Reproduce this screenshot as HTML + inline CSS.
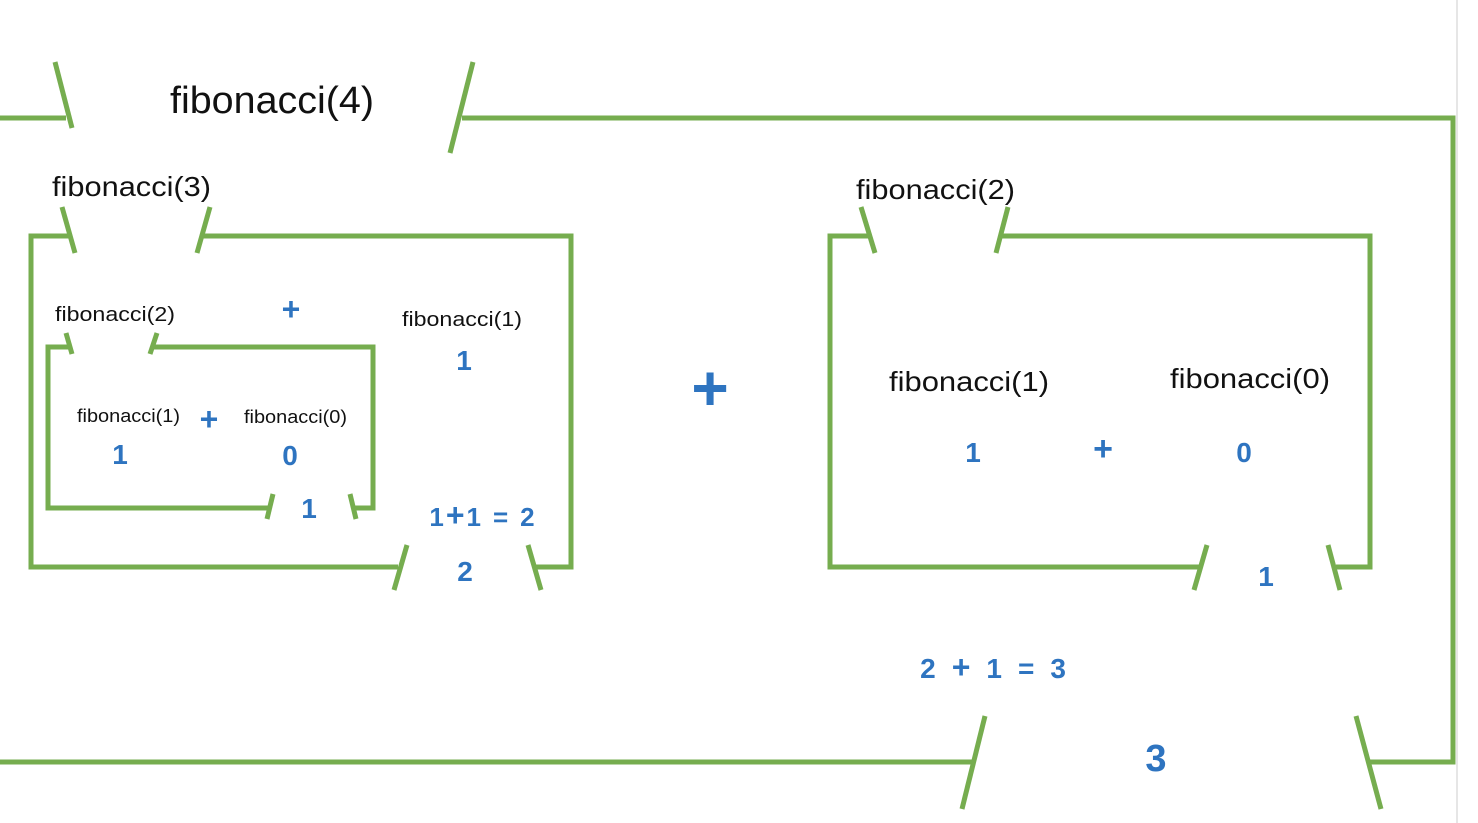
<!DOCTYPE html>
<html><head><meta charset="utf-8"><style>
html,body{margin:0;padding:0;background:#fff;}
svg{display:block;}
text{font-family:"Liberation Sans",sans-serif;}
.k{fill:#111;}
.b{fill:#2e74c0;font-weight:bold;}
</style></head><body>
<svg width="1478" height="823" viewBox="0 0 1478 823" xmlns="http://www.w3.org/2000/svg">
<rect width="1478" height="823" fill="#fff"/>
<line x1="1457" y1="0" x2="1457" y2="823" stroke="#ddd" stroke-width="1.5"/>
<g fill="none" stroke="#76ad4f" stroke-width="5">
<polyline points="0,118 66,118"/>
<line x1="55" y1="62" x2="72" y2="128"/>
<line x1="473" y1="62" x2="450" y2="153"/>
<polyline points="462,118 1453,118 1453,762 1370,762"/>
<line x1="1356" y1="716" x2="1381" y2="809"/>
<polyline points="0,762 972,762"/>
<line x1="985" y1="716" x2="962" y2="809"/>
<polyline points="70,236 31,236 31,567 398,567"/>
<line x1="62" y1="207" x2="75" y2="253"/>
<line x1="210" y1="207" x2="197" y2="253"/>
<polyline points="203,236 571,236 571,567 536,567"/>
<line x1="528" y1="545" x2="541" y2="590"/>
<line x1="407" y1="545" x2="394" y2="590"/>
<polyline points="70,347 48,347 48,508 270,508"/>
<line x1="66" y1="333" x2="72" y2="354"/>
<line x1="157" y1="333" x2="150" y2="354"/>
<polyline points="153,347 373,347 373,508 354,508"/>
<line x1="350" y1="494" x2="356" y2="519"/>
<line x1="273" y1="494" x2="267" y2="519"/>
<polyline points="869,236 830,236 830,567 1200,567"/>
<line x1="861" y1="207" x2="875" y2="253"/>
<line x1="1008" y1="207" x2="996" y2="253"/>
<polyline points="1002,236 1370,236 1370,567 1336,567"/>
<line x1="1328" y1="545" x2="1340" y2="590"/>
<line x1="1207" y1="545" x2="1194" y2="590"/>
</g>
<text class="k" x="170" y="113" font-size="38" textLength="204" lengthAdjust="spacingAndGlyphs">fibonacci(4)</text>
<text class="k" x="52" y="196" font-size="28" textLength="159" lengthAdjust="spacingAndGlyphs">fibonacci(3)</text>
<text class="k" x="856" y="199" font-size="28" textLength="159" lengthAdjust="spacingAndGlyphs">fibonacci(2)</text>
<text class="k" x="55" y="321" font-size="20" textLength="120" lengthAdjust="spacingAndGlyphs">fibonacci(2)</text>
<text class="k" x="402" y="326" font-size="20" textLength="120" lengthAdjust="spacingAndGlyphs">fibonacci(1)</text>
<text class="k" x="77" y="422" font-size="18" textLength="103" lengthAdjust="spacingAndGlyphs">fibonacci(1)</text>
<text class="k" x="244" y="423" font-size="18" textLength="103" lengthAdjust="spacingAndGlyphs">fibonacci(0)</text>
<text class="k" x="889" y="391" font-size="28" textLength="160" lengthAdjust="spacingAndGlyphs">fibonacci(1)</text>
<text class="k" x="1170" y="388" font-size="28" textLength="160" lengthAdjust="spacingAndGlyphs">fibonacci(0)</text>
<g class="b" text-anchor="middle">
<text x="291" y="320" font-size="32">+</text>
<text x="464" y="370" font-size="28">1</text>
<text x="209" y="430" font-size="32">+</text>
<text x="120" y="464" font-size="28">1</text>
<text x="290" y="465" font-size="28">0</text>
<text x="309" y="518" font-size="28">1</text>
<text x="482" y="526" font-size="26">1<tspan dx="2" font-size="32">+</tspan><tspan dx="2">1</tspan><tspan dx="12">=</tspan><tspan dx="12">2</tspan></text>
<text x="465" y="581" font-size="28">2</text>
<text x="710" y="410" font-size="64">+</text>
<text x="973" y="462" font-size="28">1</text>
<text x="1103" y="460" font-size="34">+</text>
<text x="1244" y="462" font-size="28">0</text>
<text x="1266" y="586" font-size="28">1</text>
<text x="993" y="678" font-size="28">2<tspan dx="16" font-size="32">+</tspan><tspan dx="16">1</tspan><tspan dx="16">=</tspan><tspan dx="16">3</tspan></text>
<text x="1156" y="771" font-size="38">3</text>
</g>
</svg>
</body></html>
